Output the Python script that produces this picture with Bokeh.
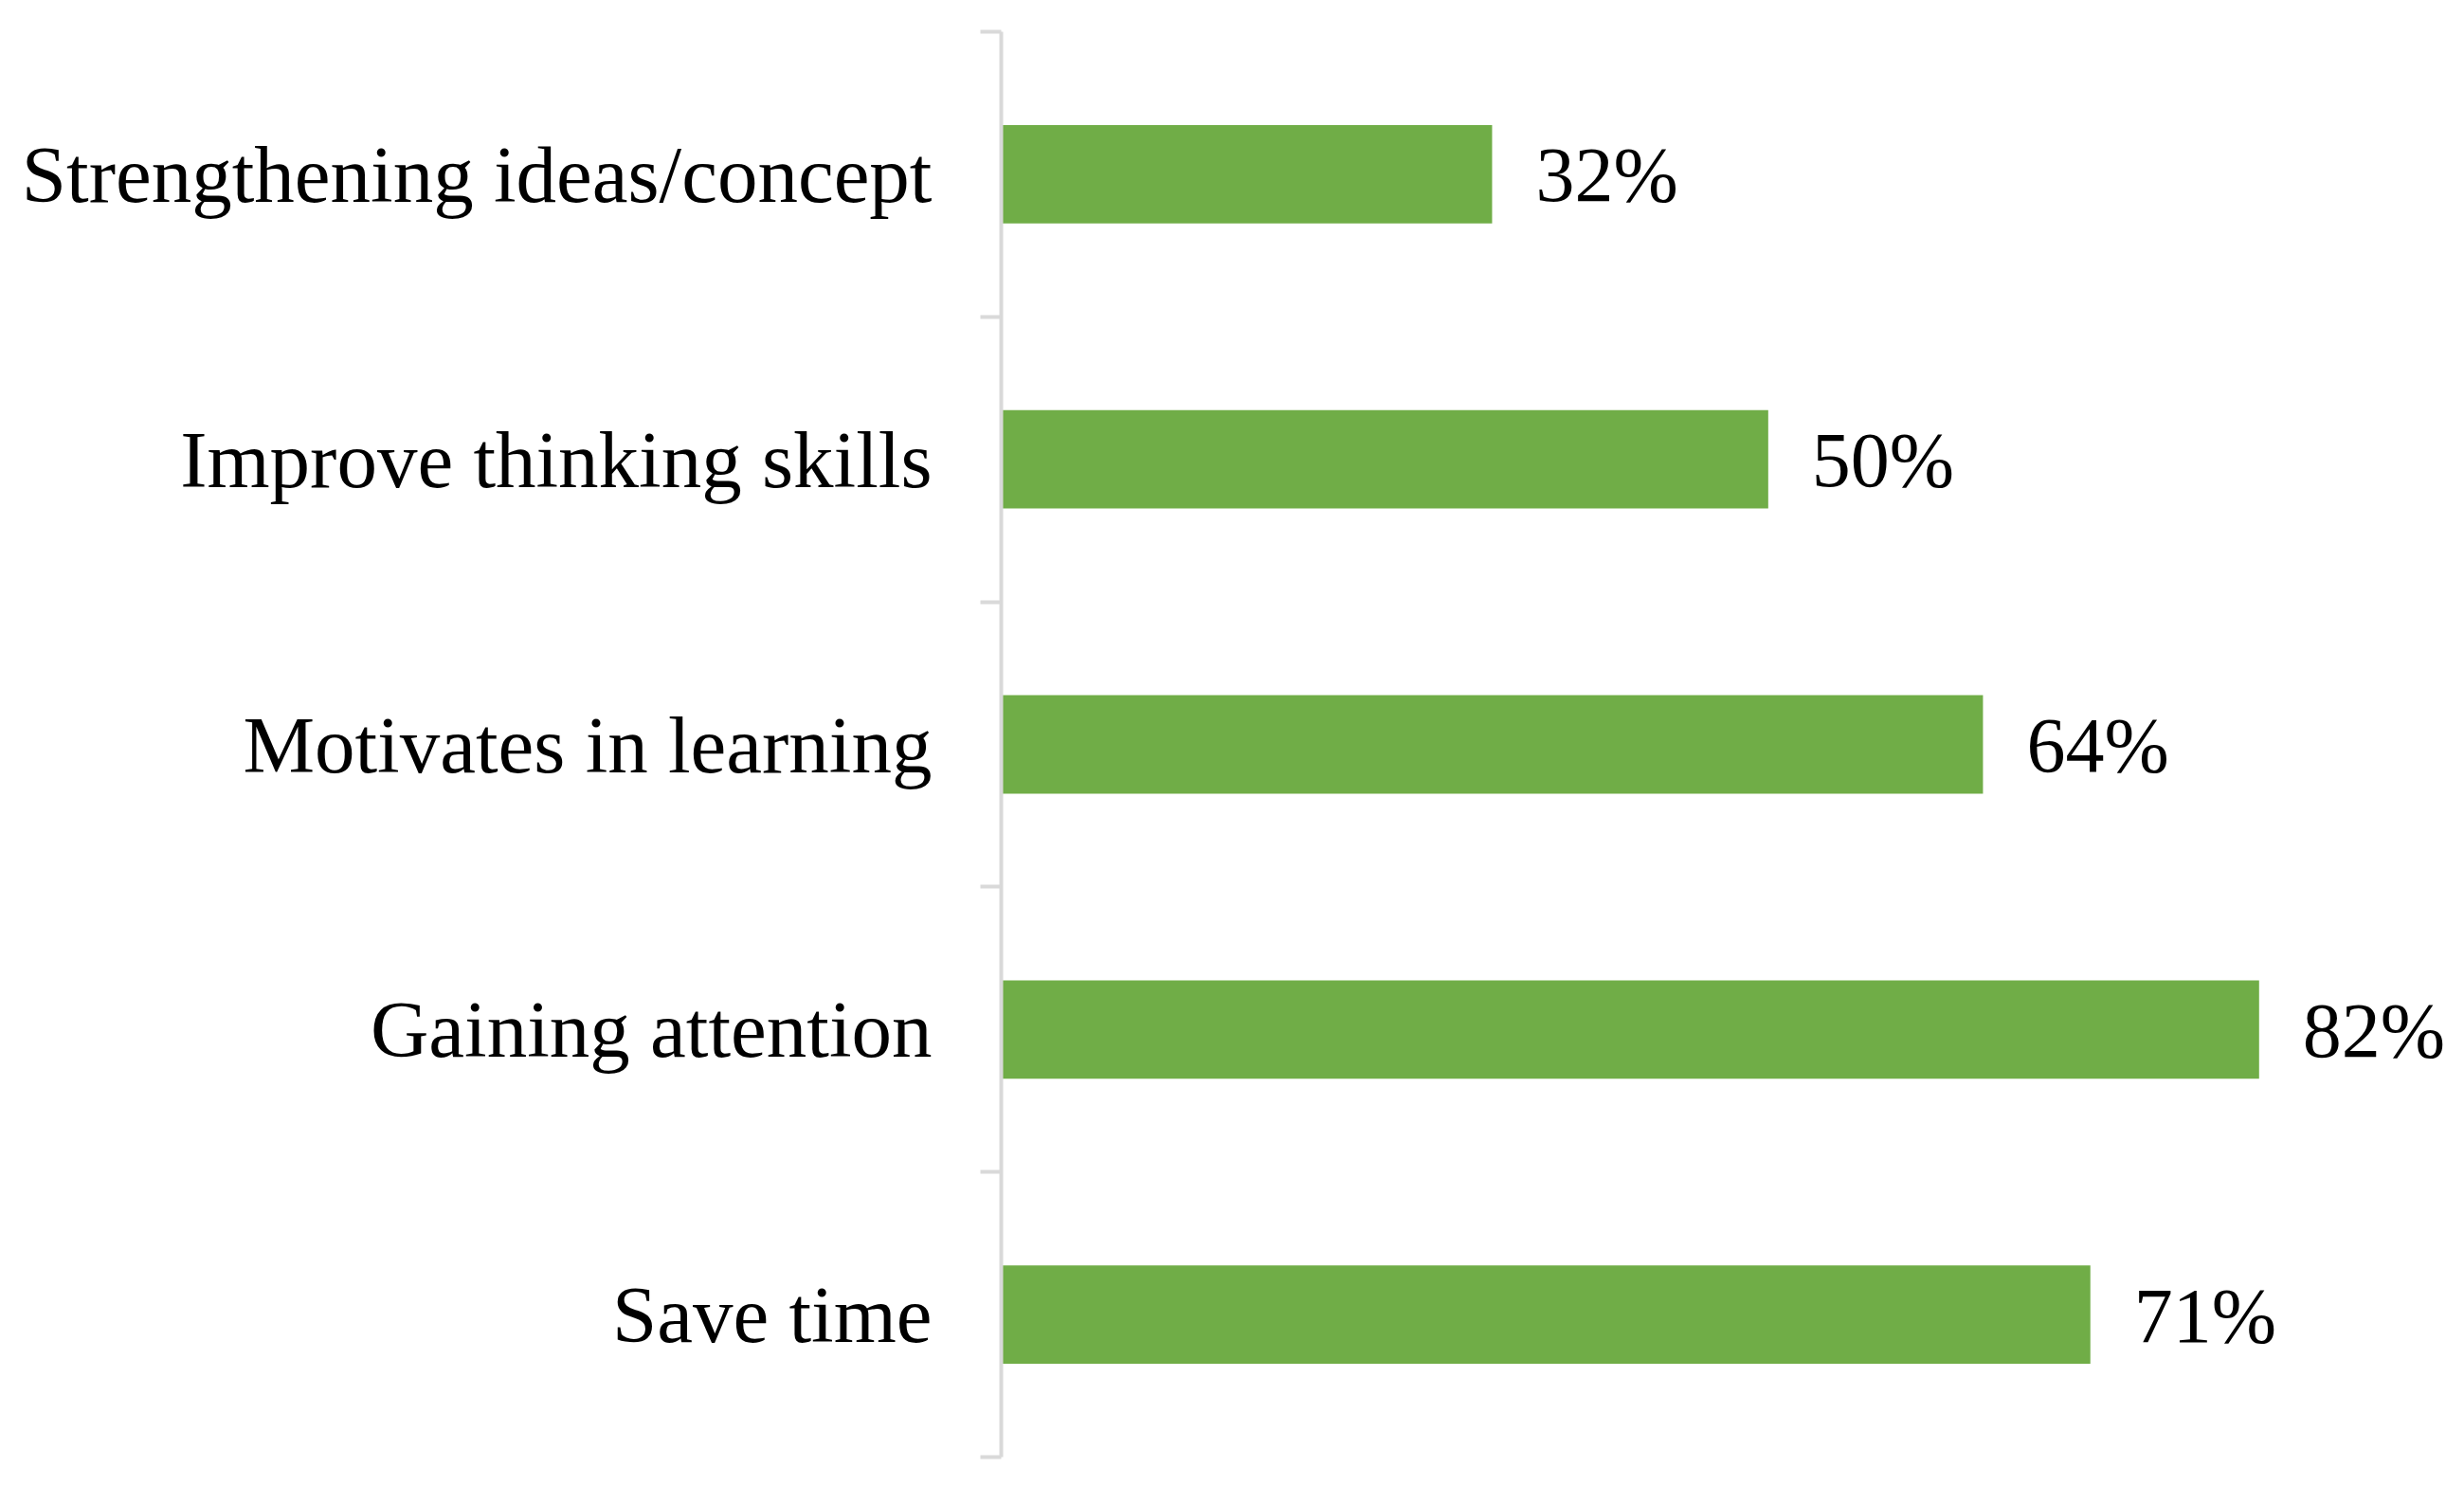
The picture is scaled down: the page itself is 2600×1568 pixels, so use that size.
from bokeh.plotting import figure
from bokeh.models import Range1d, FixedTicker, ColumnDataSource
from bokeh.embed import file_html
from bokeh.resources import INLINE
from bokeh.core.properties import value

# Data (top to bottom as shown)
categories = ["Strengthening ideas/concept", "Improve thinking skills",
              "Motivates in learning", "Gaining attention", "Save time"]
values = [32, 50, 64, 82, 71]
labels = ["32%", "50%", "64%", "82%", "71%"]

n = len(categories)
ypos = [n - i - 0.5 for i in range(n)]

src = ColumnDataSource(dict(y=ypos, v=values, lab=labels, cat=categories))

p = figure(width=2584, height=1552, output_backend="svg", toolbar_location=None,
           x_range=Range1d(0, 94.4), y_range=Range1d(0, n),
           min_border_left=1056, min_border_right=0,
           min_border_top=33, min_border_bottom=15)

p.hbar(y="y", right="v", left=0, height=0.345, source=src,
       fill_color="#70AD47", line_color=None)

p.text(x="v", y="y", text="lab", source=src, x_offset=46, y_offset=1,
       text_font=value("Liberation Serif"), text_font_size="82px",
       text_baseline="middle", text_align="left", text_color="#000000")

p.xaxis.visible = False
p.xgrid.visible = False
p.ygrid.visible = False
p.outline_line_color = None
p.background_fill_color = "white"
p.border_fill_color = "white"

ax = p.yaxis[0]
ax.ticker = FixedTicker(ticks=ypos, minor_ticks=list(range(n + 1)))
ax.major_label_overrides = {y: c for y, c in zip(ypos, categories)}
ax.major_label_text_font = "Liberation Serif"
ax.major_label_text_font_size = "85px"
ax.major_label_text_color = "#000000"
ax.major_label_standoff = 51
ax.major_tick_out = 0
ax.major_tick_in = 0
ax.major_tick_line_color = None
ax.minor_tick_out = 22
ax.minor_tick_in = 0
ax.minor_tick_line_color = "#d9d9d9"
ax.minor_tick_line_width = 4
ax.axis_line_color = "#d9d9d9"
ax.axis_line_width = 4

open("out.html", "w").write(file_html(p, INLINE))
